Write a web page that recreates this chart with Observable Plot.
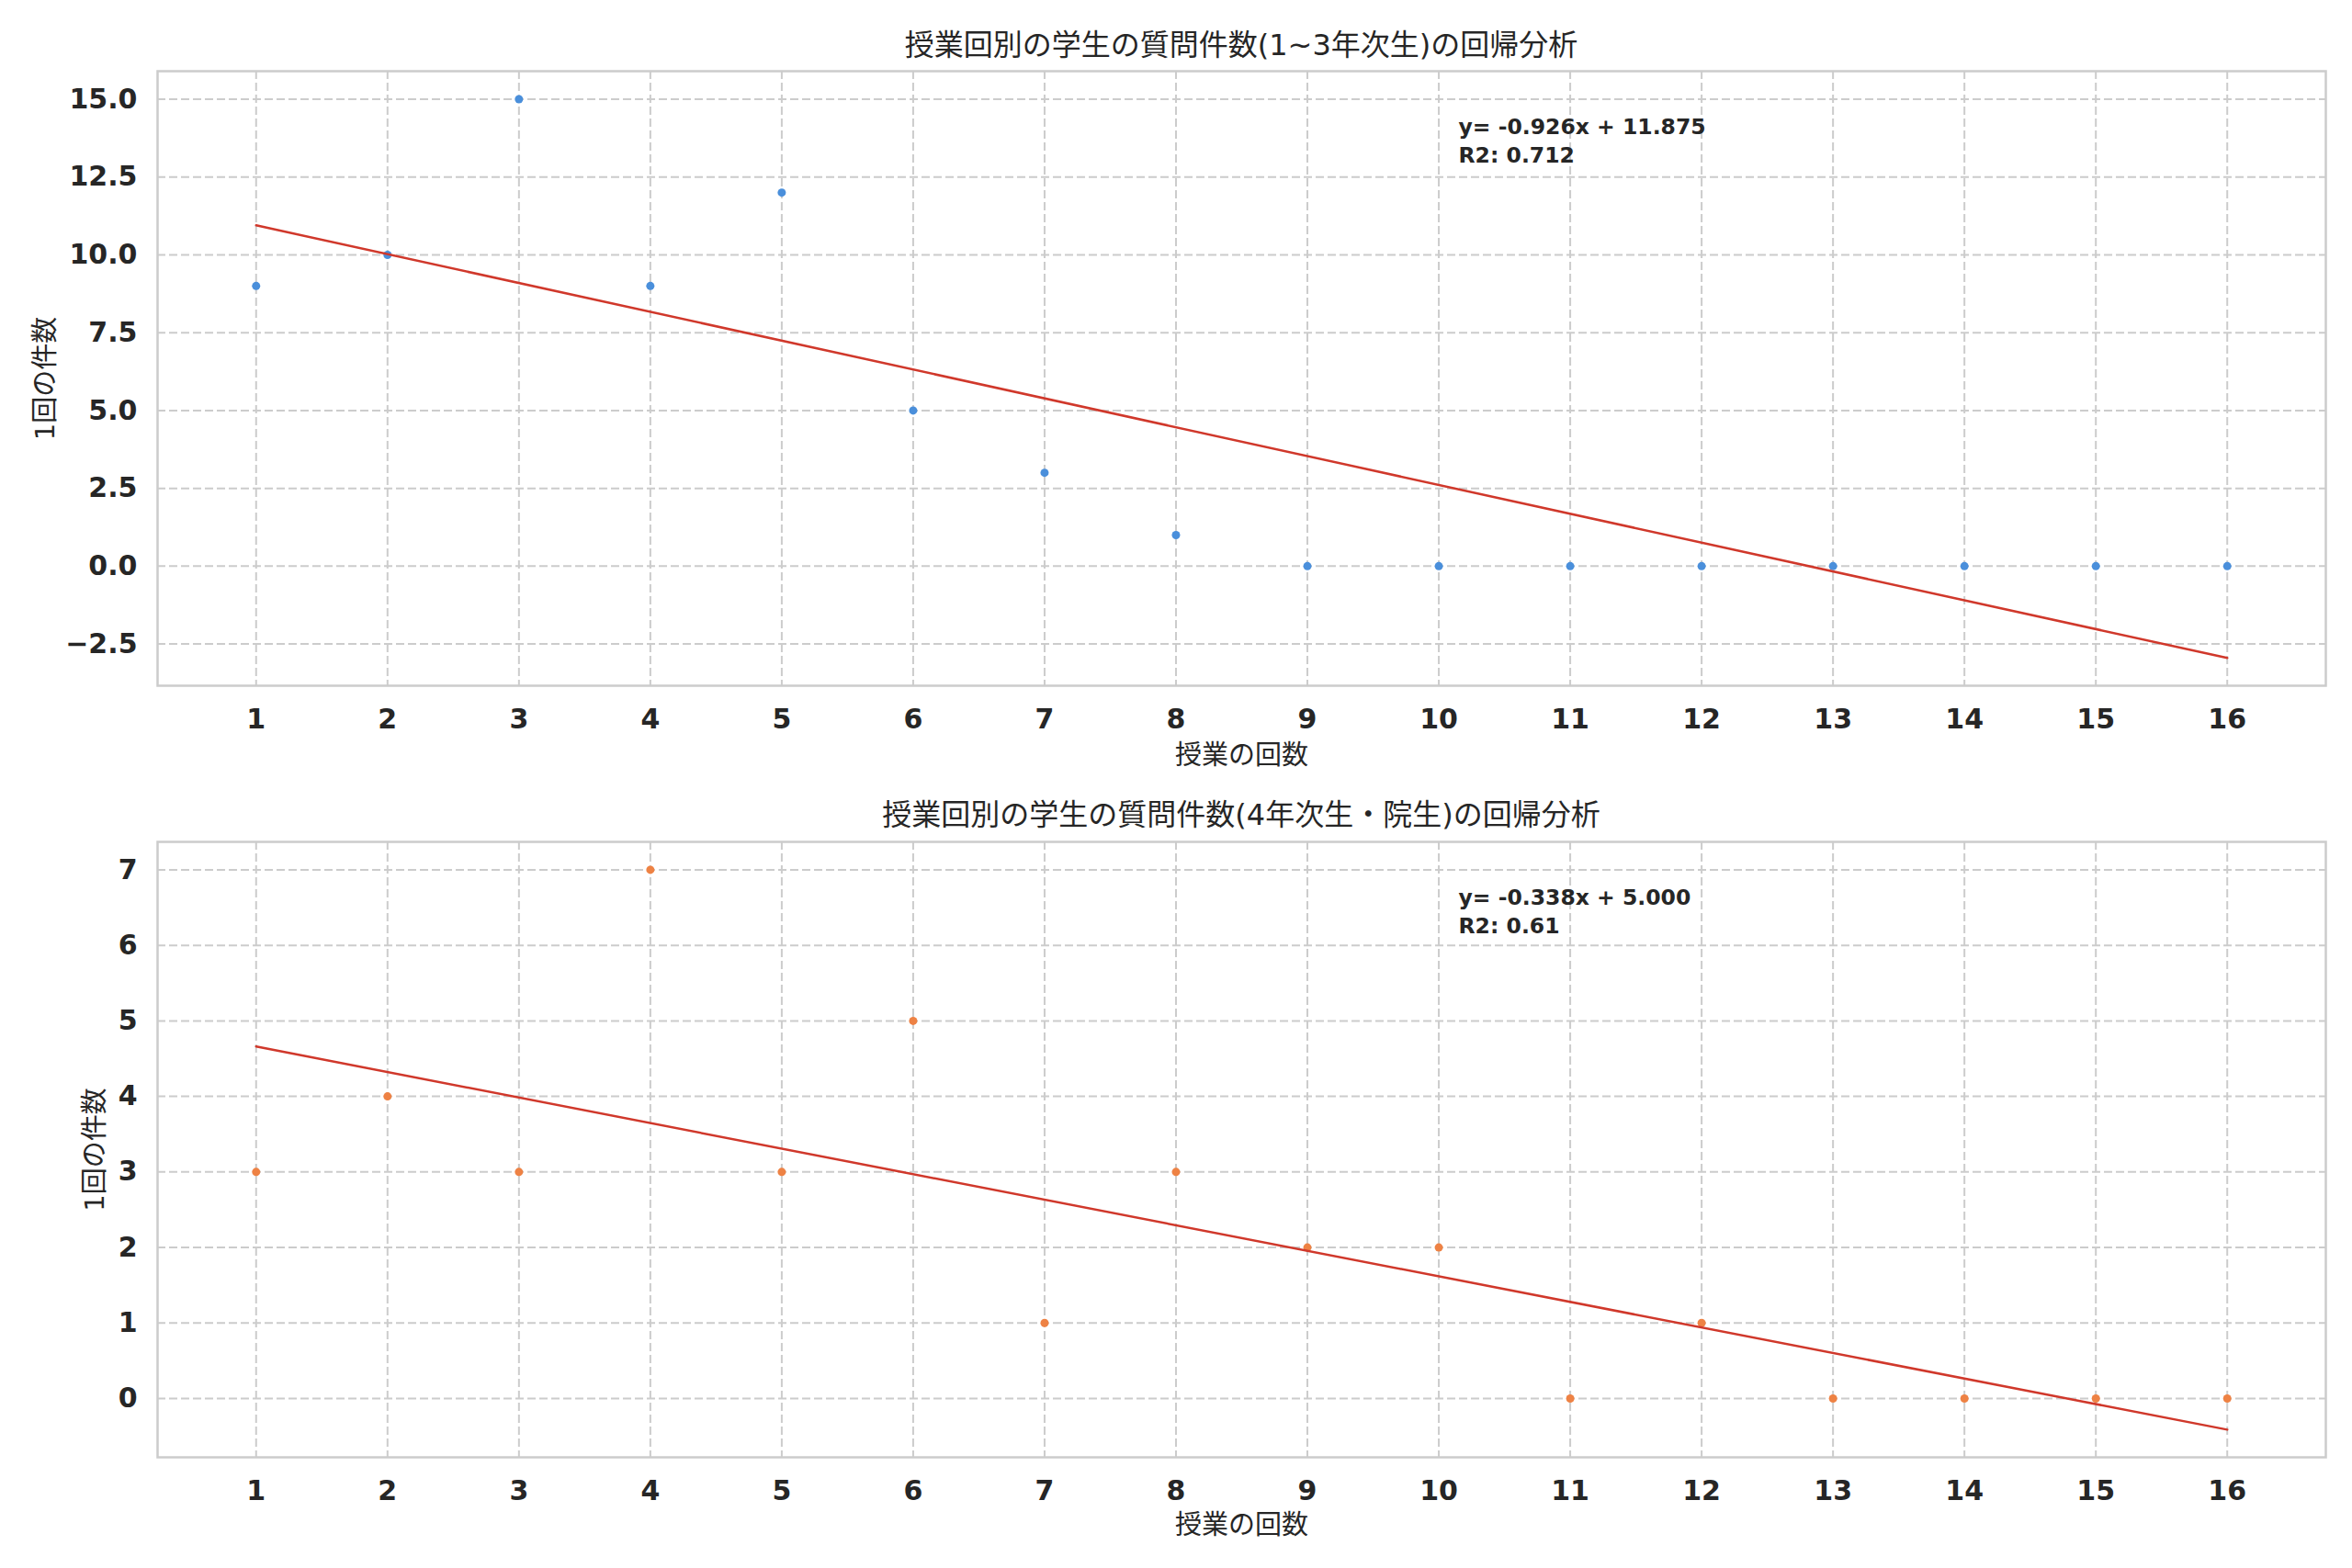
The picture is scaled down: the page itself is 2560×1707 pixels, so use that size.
<!DOCTYPE html>
<html>
<head>
<meta charset="utf-8">
<script src="https://cdn.jsdelivr.net/npm/d3@7"></script>
<script src="https://cdn.jsdelivr.net/npm/@observablehq/plot@0.6"></script>
<style>
  body { margin: 0; background: #fff; }
  #root { position: relative; width: 2560px; height: 1707px; background: #fff;
          font-family: "DejaVu Sans", "Noto Sans CJK JP", sans-serif; }
  .title { position: absolute; left: 171px; width: 2360px; height: 44px; line-height: 44px;
           text-align: center; font-size: 32px; color: #262626; }
  .chart { position: absolute; left: 0; }
</style>
</head>
<body>
<div id="root"></div>
<script>
// ---- data ----
const lessons = [1, 2, 3, 4, 5, 6, 7, 8, 9, 10, 11, 12, 13, 14, 15, 16];
const countsLower = [9, 10, 15, 9, 12, 5, 3, 1, 0, 0, 0, 0, 0, 0, 0, 0];
const countsUpper = [3, 4, 3, 7, 3, 5, 1, 3, 2, 2, 0, 1, 0, 0, 0, 0];
const titles = ["授業回別の学生の質問件数(1~3年次生)の回帰分析", "授業回別の学生の質問件数(4年次生・院生)の回帰分析"];
const xLabel = "授業の回数";
const yLabel = "1回の件数";
const eqTexts = ["y= -0.926x + 11.875", "y= -0.338x + 5.000"];
const r2Texts = ["R2: 0.712", "R2: 0.61"];
const yTicksLower = [-2.5, 0, 2.5, 5, 7.5, 10, 12.5, 15];
const yTicksUpper = [0, 1, 2, 3, 4, 5, 6, 7];

const root = document.getElementById("root");
const W = 2560, ML = 171, MR = 29;
const plotW = W - ML - MR;
const font = '"DejaVu Sans", "Noto Sans CJK JP", sans-serif';

function makeChart(cfg) {
  const data = lessons.map((x, i) => ({x, y: cfg.values[i]}));
  return Plot.plot({
    width: W,
    height: cfg.marginTop + cfg.frameH + cfg.marginBottom,
    marginLeft: ML,
    marginRight: MR,
    marginTop: cfg.marginTop,
    marginBottom: cfg.marginBottom,
    style: {fontFamily: font, background: "white", color: "#262626"},
    x: {domain: [0.25, 16.75]},
    y: {domain: cfg.yDomain},
    marks: [
      Plot.gridX(lessons, {stroke: "#cccccc", strokeOpacity: 1, strokeWidth: 2, strokeDasharray: "9,4"}),
      Plot.gridY(cfg.yTicks, {stroke: "#cccccc", strokeOpacity: 1, strokeWidth: 2, strokeDasharray: "9,4"}),
      Plot.frame({stroke: "#cccccc", strokeWidth: 2.5}),
      Plot.axisX(lessons, {tickSize: 0, tickPadding: 25, fontSize: 30, fontWeight: "bold", fill: "#262626", label: null, tickFormat: d3.format("d")}),
      Plot.axisY(cfg.yTicks, {tickSize: 0, tickPadding: 22, fontSize: 30, fontWeight: "bold", fill: "#262626", label: null, tickFormat: cfg.fmt}),
      Plot.dot(data, {x: "x", y: "y", r: 4.5, fill: cfg.color, stroke: "none"}),
      Plot.linearRegressionY(data, {x: "x", y: "y", ci: 0, stroke: "#d0382b", strokeWidth: 2.5}),
      Plot.text([cfg.eq + "\n" + cfg.r2], {frameAnchor: "top-left", dx: 0.6 * plotW, dy: 46, lineAnchor: "top",
        textAnchor: "start", fontSize: 23.5, fontWeight: "bold", fill: "#262626", lineHeight: 1.32}),
      Plot.text([xLabel], {frameAnchor: "bottom", dy: cfg.xLabelDy, lineAnchor: "middle", fontSize: 29, fill: "#262626"}),
      Plot.text([yLabel], {frameAnchor: "left", dx: cfg.yLabelDx, rotate: -90, lineAnchor: "middle", textAnchor: "middle", fontSize: 29, fill: "#262626"})
    ]
  });
}

function addBlock(cfg) {
  const t = document.createElement("div");
  t.className = "title";
  t.style.top = (cfg.titleCenter - 22) + "px";
  t.textContent = cfg.title;
  root.appendChild(t);
  const svg = makeChart(cfg);
  svg.classList.add("chart");
  svg.style.top = (cfg.frameTop - cfg.marginTop) + "px";
  root.appendChild(svg);
}

addBlock({
  title: titles[0], titleCenter: 49, frameTop: 77, frameH: 669, marginTop: 10, marginBottom: 120,
  values: countsLower, yDomain: [-3.84, 15.90], yTicks: yTicksLower, fmt: d3.format(".1f"),
  color: "#4a8fdb", eq: eqTexts[0], r2: r2Texts[0], xLabelDy: 76, yLabelDx: -122
});
addBlock({
  title: titles[1], titleCenter: 887, frameTop: 916, frameH: 670, marginTop: 10, marginBottom: 110,
  values: countsUpper, yDomain: [-0.778, 7.37], yTicks: yTicksUpper, fmt: d3.format("d"),
  color: "#ee8244", eq: eqTexts[1], r2: r2Texts[1], xLabelDy: 74, yLabelDx: -68
});
</script>
</body>
</html>
